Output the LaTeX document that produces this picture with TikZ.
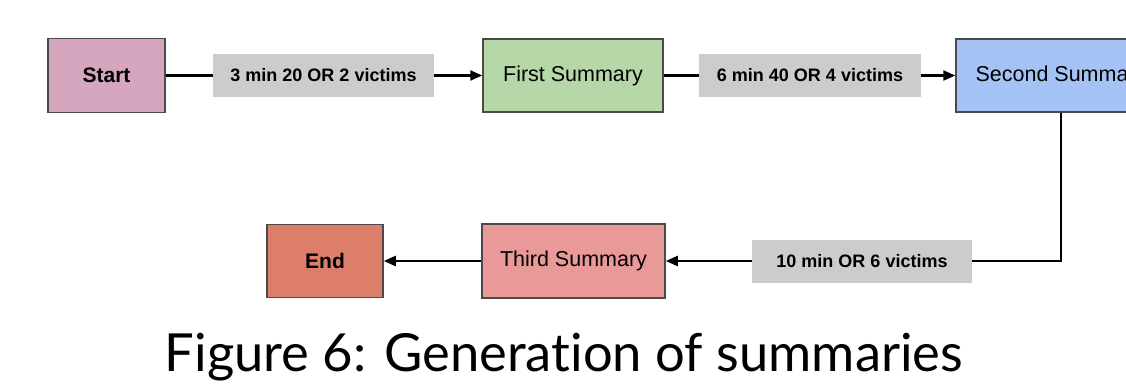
\documentclass[tikz,border=0pt]{standalone}
\usepackage{fontspec}
\setmainfont{Liberation Sans}
\newfontfamily\capfont[Ligatures=NoCommon]{Lato}
\usetikzlibrary{arrows.meta}
\definecolor{cstart}{HTML}{D5A6BD}
\definecolor{cfirst}{HTML}{B6D7A8}
\definecolor{csecond}{HTML}{A4C2F4}
\definecolor{cthird}{HTML}{EA9999}
\definecolor{cend}{HTML}{DD7E6B}
\definecolor{clabel}{HTML}{CCCCCC}
\definecolor{cborder}{HTML}{4A4A4A}
\tikzset{
  stagebox/.style={draw=cborder, line width=1.5pt, inner sep=0pt, font=\fontsize{21.5}{24}\selectfont},
  boldstage/.style={stagebox, font=\bfseries\fontsize{21}{24}\selectfont},
  condbox/.style={fill=clabel, draw=none, inner sep=0pt, font=\bfseries\fontsize{18}{21}\selectfont},
  link/.style={line width=2.3pt, black},
  arr/.style={link, -{Triangle[length=12pt,width=10pt]}},
}
\begin{document}
\begin{tikzpicture}[x=1pt,y=-1pt]
\clip (0,0) rectangle (1126,383);
\fill[white] (0,0) rectangle (1126,383);
\node[boldstage, fill=cstart, minimum width=117pt, minimum height=74pt] (start) at (106.5,75.5) {Start};
\node[condbox, minimum width=221pt, minimum height=43pt] (l1) at (323.5,75.5) {3 min 20 OR 2 victims};
\node[stagebox, fill=cfirst, minimum width=180pt, minimum height=73pt] (first) at (573,75.5) {First Summary};
\node[condbox, minimum width=222pt, minimum height=43pt] (l2) at (810,75.5) {6 min 40 OR 4 victims};
\node[stagebox, fill=csecond, minimum width=210pt, minimum height=73pt] (second) at (1061,75.5) {Second Summary};
\node[condbox, minimum width=220pt, minimum height=43pt] (l3) at (862,261) {10 min OR 6 victims};
\node[stagebox, fill=cthird, minimum width=183pt, minimum height=74pt] (third) at (573.5,261) {Third Summary};
\node[boldstage, fill=cend, minimum width=116pt, minimum height=73pt] (end) at (325,261) {End};
\draw[link] (start.east) -- (l1.west);
\draw[arr] (l1.east) -- (first.west);
\draw[link] (first.east) -- (l2.west);
\draw[arr] (l2.east) -- (second.west);
\draw[link] (second.south) |- (l3.east);
\draw[arr] (l3.west) -- (third.east);
\draw[arr] (third.west) -- (end.east);
\node[anchor=base, font=\capfont\fontsize{52.5}{56}\selectfont] (cap) at (564,371) {Figure 6: Generation of summaries};
\end{tikzpicture}
\end{document}
